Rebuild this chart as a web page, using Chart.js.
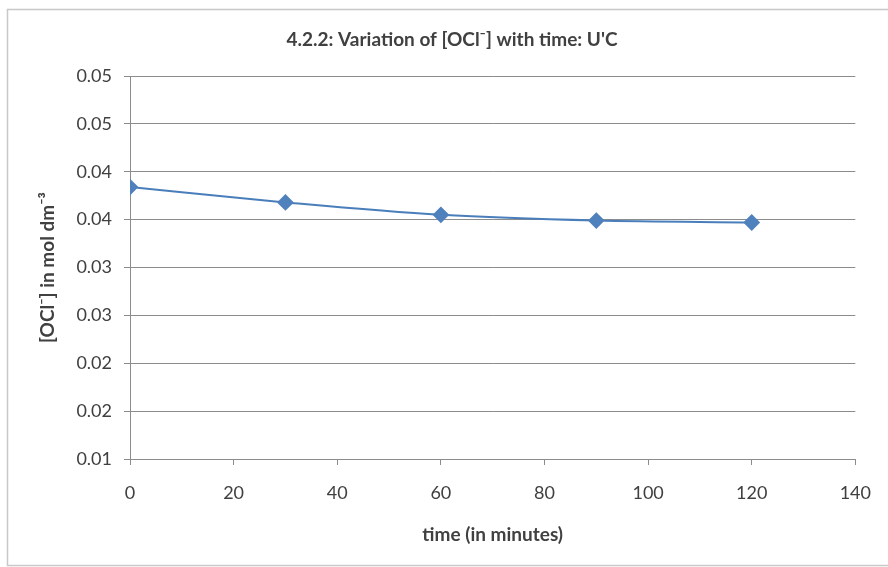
<!DOCTYPE html>
<html>
<head>
<meta charset="utf-8">
<script src="https://cdn.jsdelivr.net/npm/chart.js@4"></script>
<style>
html,body{margin:0;padding:0;background:#fff;}
#wrap{width:888px;height:567px;position:relative;}
</style>
</head>
<body>
<div id="wrap"><canvas id="c" width="888" height="567"></canvas></div>
<script>
const timeMinutes = [0, 30, 60, 90, 120];
const ocl = [0.0384, 0.0368, 0.0355, 0.0349, 0.0347];
const yTickLabels = ['0.01', '0.02', '0.02', '0.03', '0.03', '0.04', '0.04', '0.05', '0.05'];
const chartTitle = "4.2.2: Variation of [OCl\u207B] with time: U'C";
const xTitle = 'time (in minutes)';
const yTitle = '[OCl\u207B] in mol dm\u207B\u00B3';

const FONT = 'Lato, "Open Sans", sans-serif';

const borderPlugin = {
  id: 'outerBorder',
  beforeDraw(chart) {
    const ctx = chart.ctx;
    ctx.save();
    ctx.fillStyle = '#fff';
    ctx.fillRect(0, 0, chart.width, chart.height);
    ctx.strokeStyle = '#c8c8c8';
    ctx.lineWidth = 1.5;
    ctx.strokeRect(7.5, 9.5, chart.width + 10, chart.height - 11);
    ctx.restore();
  },
  afterDraw(chart) {
    const ctx = chart.ctx;
    ctx.save();
    ctx.fillStyle = '#404040';
    ctx.font = 'bold 19px ' + FONT;
    ctx.textAlign = 'center';
    ctx.textBaseline = 'middle';
    ctx.fillText(chartTitle, 452, 40);
    ctx.restore();
  }
};

new Chart(document.getElementById('c'), {
  type: 'line',
  data: {
    datasets: [{
      data: timeMinutes.map((t, i) => ({x: t, y: ocl[i]})),
      borderColor: '#4a7ebb',
      borderWidth: 2,
      backgroundColor: '#4f81bd',
      pointBackgroundColor: '#4f81bd',
      pointBorderColor: '#4f81bd',
      pointStyle: 'rectRot',
      pointRadius: 7,
      tension: 0.4,
      cubicInterpolationMode: 'monotone',
      fill: false
    }]
  },
  plugins: [borderPlugin],
  options: {
    responsive: false,
    animation: false,
    layout: {padding: {left: 8, right: 30, top: 76, bottom: 0}},
    plugins: {
      legend: {display: false},
      tooltip: {enabled: false},
      title: {display: false}
    },
    scales: {
      x: {
        type: 'linear',
        min: 0, max: 140,
        ticks: {stepSize: 20, color: '#404040', font: {family: FONT, size: 18}, padding: 17, maxRotation: 0},
        grid: {display: true, drawOnChartArea: false, drawTicks: true, tickLength: 6, color: '#8c8c8c'},
        border: {display: true, color: '#8c8c8c', width: 1},
        title: {display: true, text: xTitle, color: '#404040',
          font: {family: FONT, size: 19, weight: 'bold', lineHeight: 1.2},
          padding: {top: 0, bottom: 21}},
        afterFit(s) { s.height = 108; }
      },
      y: {
        type: 'linear',
        min: 0.01, max: 0.05,
        ticks: {stepSize: 0.005, color: '#404040', font: {family: FONT, size: 18}, padding: 12,
          callback: (v, i) => yTickLabels[i]},
        grid: {color: '#8c8c8c', tickLength: 6, lineWidth: 1},
        border: {display: true, color: '#8c8c8c', width: 1},
        title: {display: true, text: yTitle, color: '#404040',
          font: {family: FONT, size: 19, weight: 'bold', lineHeight: 1.2},
          padding: {top: 28, bottom: 0}},
        afterFit(s) { s.width = 122; }
      }
    }
  }
});
</script>
</body>
</html>
